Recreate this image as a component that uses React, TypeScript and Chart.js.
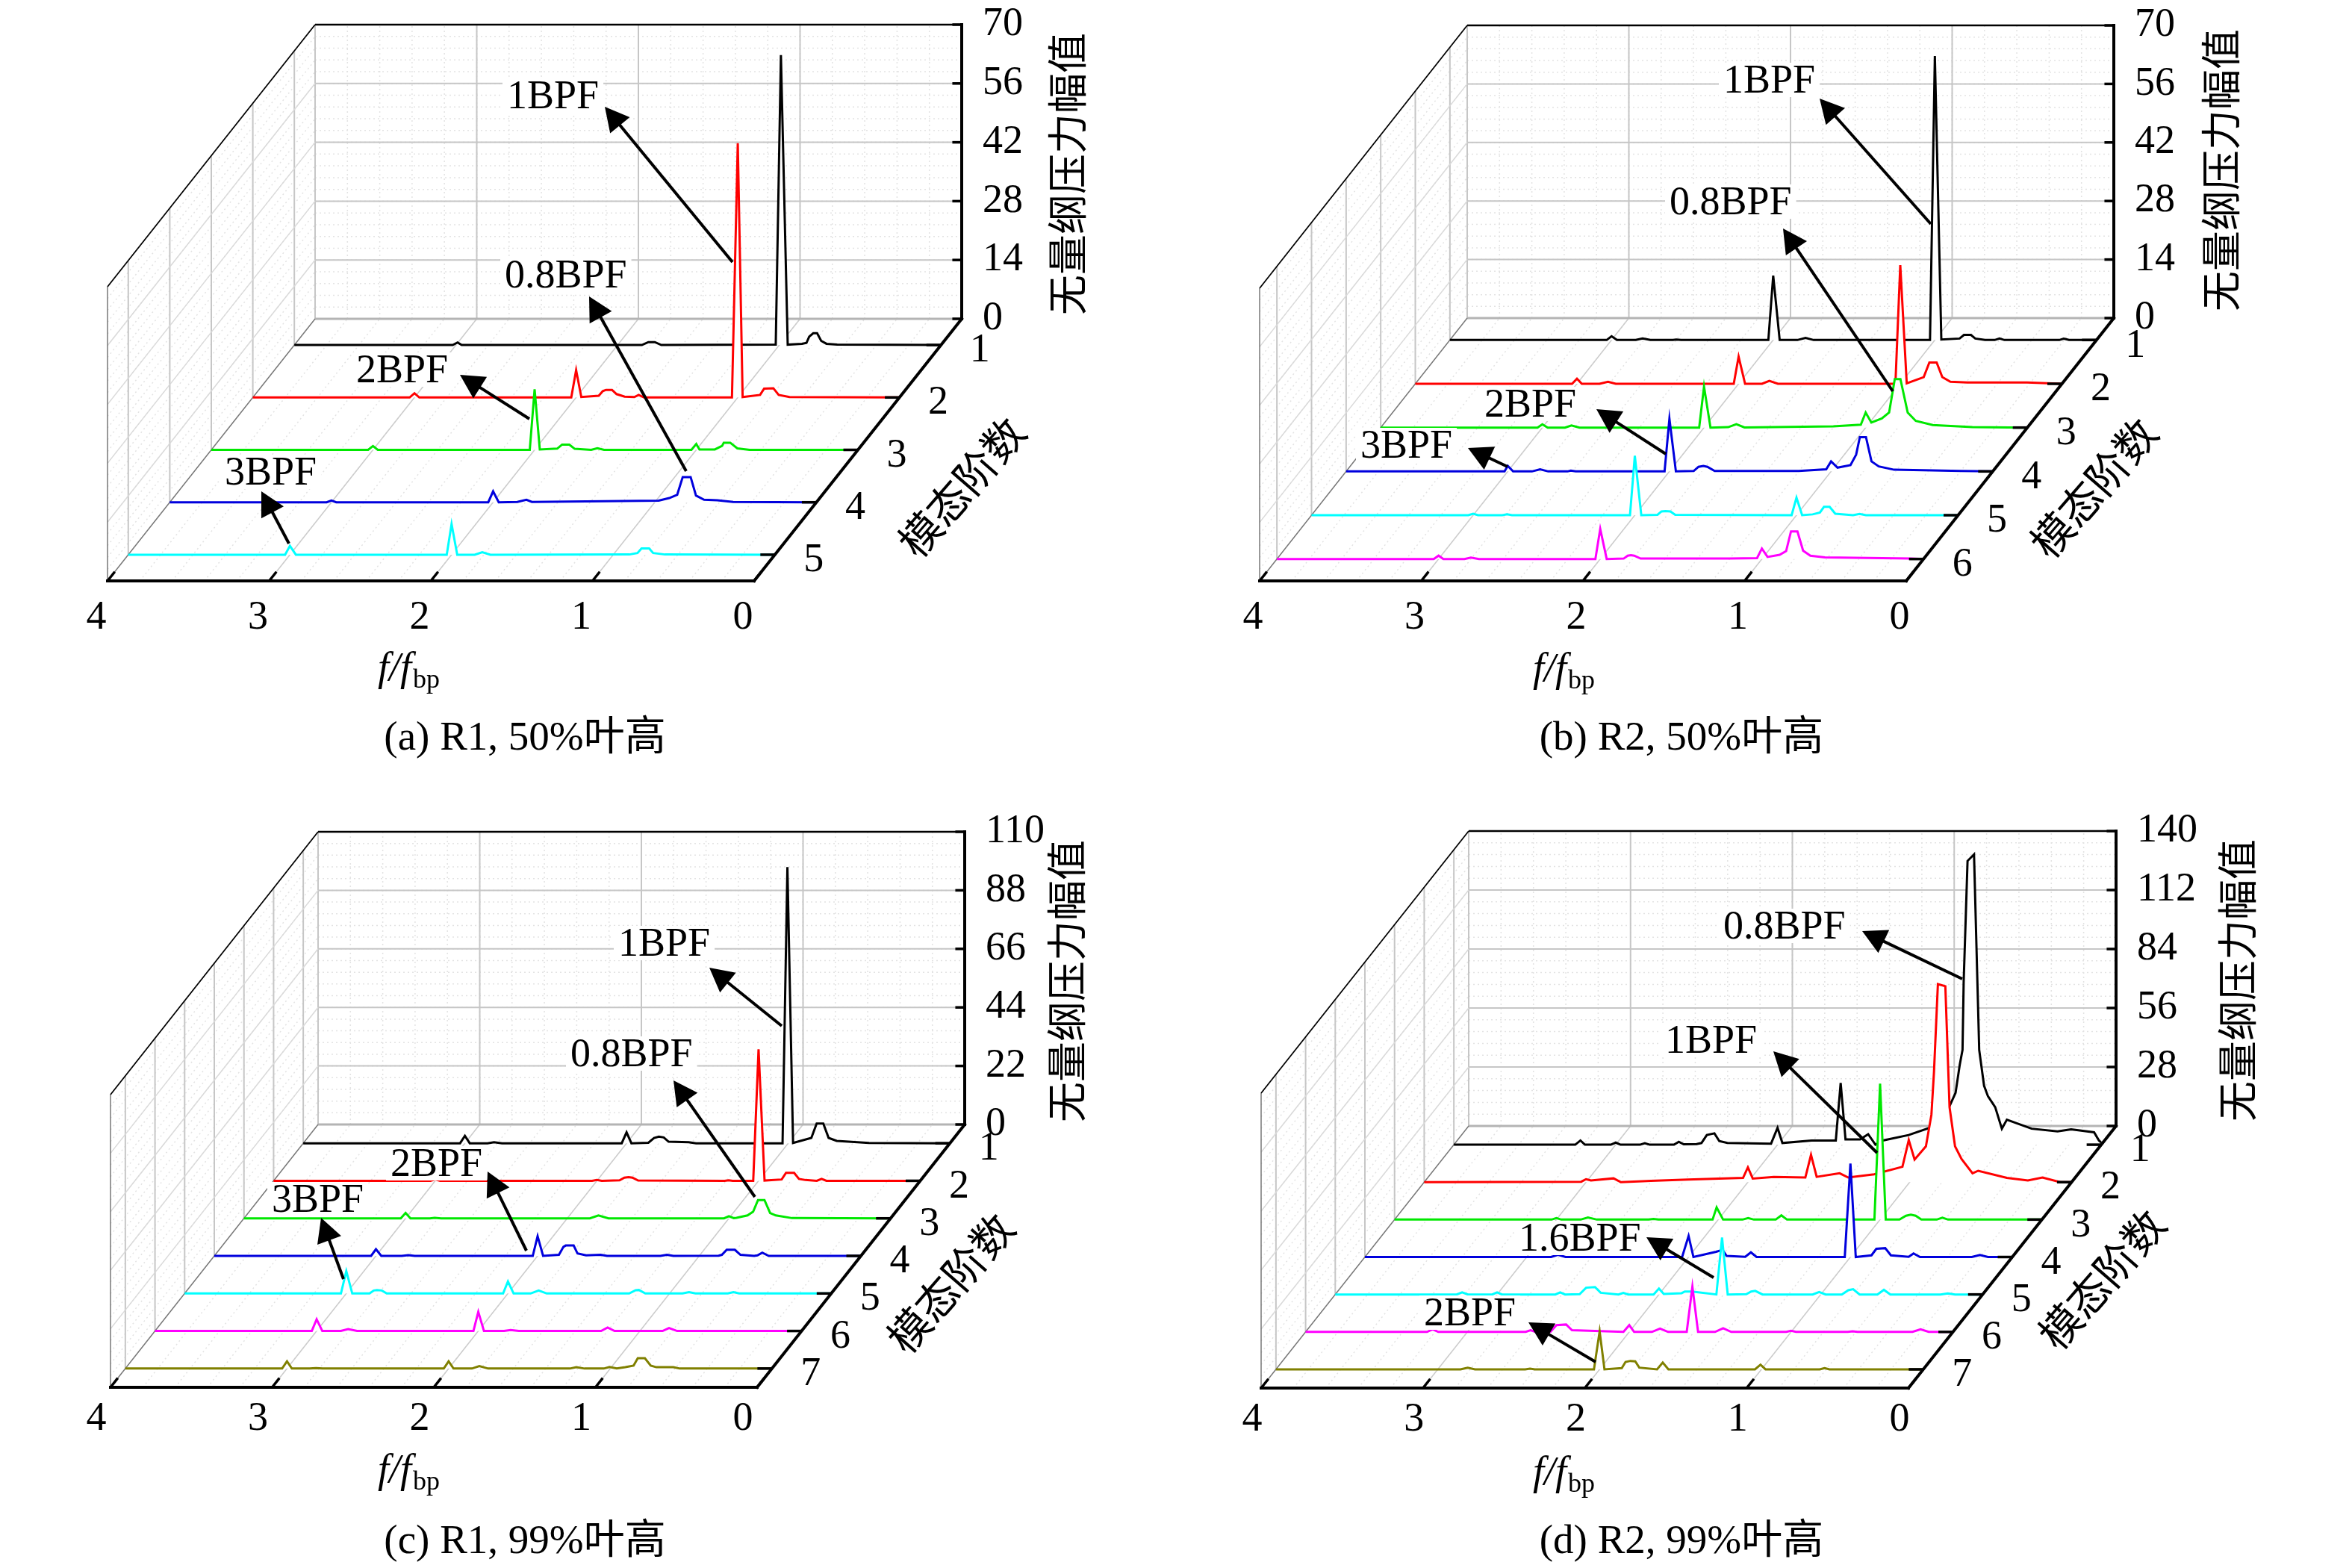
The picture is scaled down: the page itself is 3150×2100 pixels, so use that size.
import { useEffect, useRef } from "react";
import { Chart, registerables } from "chart.js";

Chart.register(...registerables);

type Pt = [number, number];

const fTicks = [4, 3, 2, 1, 0];
const ampTicksA = [0, 14, 28, 42, 56, 70];
const ampTicksB = [0, 14, 28, 42, 56, 70];
const ampTicksC = [0, 22, 44, 66, 88, 110];
const ampTicksD = [0, 28, 56, 84, 112, 140];
const seriesColors = ["#000000", "#ff0000", "#00e800", "#0000dd", "#00ffff", "#ff00ff", "#808000"];

// (a) R1, 50%
const a1: Pt[] = [[4,0],[3.02,0],[2.99,.6],[2.965,0],[1.85,0],[1.81,.7],[1.77,.7],[1.73,0],[1.022,.1],[.99,69],[.948,.1],[.86,.3],[.832,.5],[.815,2],[.79,2.8],[.766,2.8],[.741,1],[.708,.3],[.642,.1],[0,0]];
const a2: Pt[] = [[4,0],[3.03,0],[3.0,1],[2.97,0],[2.03,0],[2.0,6.5],[1.968,.1],[1.86,.4],[1.835,1.5],[1.815,1.8],[1.778,1.8],[1.75,.8],[1.70,.2],[1.64,.1],[1.613,.6],[1.58,0],[1.036,0],[1.0,60.5],[.97,.1],[.862,.6],[.837,2.1],[.78,2.2],[.747,.6],[.68,.1],[0,0]];
const a3: Pt[] = [[4,0],[3.03,0],[3.0,.9],[2.97,0],[2.03,0],[2.0,14.4],[1.968,.1],[1.86,.3],[1.83,1.25],[1.785,1.25],[1.752,.25],[1.65,0],[1.612,.4],[1.57,0],[1.03,0],[1.0,1.4],[.98,.1],[.885,.1],[.84,.95],[.83,1.7],[.79,1.7],[.746,.35],[.67,0],[0,0]];
const a4: Pt[] = [[4,0],[3.03,0],[3.0,.4],[2.97,0],[2.03,0],[2.0,2.6],[1.965,0],[1.85,.1],[1.794,.6],[1.76,.1],[.976,.4],[.91,1],[.861,1.8],[.827,6],[.778,6],[.745,1.6],[.695,.6],[.613,.5],[.515,.1],[0,0]];
const a5: Pt[] = [[4,0],[3.03,0],[3.0,2.1],[2.963,0],[2.03,0],[2.0,7.3],[1.965,0],[1.857,0],[1.81,.6],[1.76,0],[.9,.05],[.85,.4],[.825,1.5],[.778,1.5],[.753,.4],[.68,.05],[0,0]];

// (b) R2, 50%
const b1: Pt[] = [[4,0],[3.03,0],[3.0,.9],[2.967,0],[2.85,0],[2.808,.35],[2.76,0],[2.62,0],[2.6,.1],[2.57,0],[2.03,0],[2.0,15.4],[1.96,0],[1.85,0],[1.80,.5],[1.75,0],[1.03,0],[1.0,67.9],[.96,.1],[.847,.35],[.82,1.2],[.777,1.2],[.75,.35],[.69,0],[.63,0],[.6,.35],[.57,0],[.23,0],[.203,.3],[.17,0],[0,0]];
const b2: Pt[] = [[4,0],[3.03,0],[3.0,1.2],[2.97,0],[2.86,0],[2.808,.5],[2.76,0],[2.03,0],[2.0,6.5],[1.96,0],[1.855,0],[1.81,.7],[1.757,0],[1.03,0],[1.0,28.4],[.96,.1],[.855,1.6],[.82,5.1],[.775,5.1],[.74,1.6],[.69,.5],[.585,.3],[.215,.3],[0,0]];
const b3: Pt[] = [[4,0],[3.03,0],[3.0,.8],[2.967,0],[2.86,0],[2.82,.5],[2.77,0],[2.03,0],[2.0,9.8],[1.96,0],[1.85,.1],[1.80,.8],[1.75,.05],[1.57,.1],[1.2,.3],[1.03,.7],[1.0,3.6],[.965,1.2],[.90,2.2],[.855,3.6],[.82,11.6],[.785,11.6],[.74,3.6],[.69,1.6],[.585,.6],[.34,.1],[0,0]];
const b4: Pt[] = [[4,0],[3.02,0],[3.0,1.3],[2.967,0],[2.85,0],[2.80,.5],[2.75,0],[2.63,0],[2.61,.2],[2.58,0],[2.03,0],[2.0,12.6],[1.96,0],[1.85,.1],[1.82,1.1],[1.79,1.3],[1.765,1.1],[1.72,.1],[1.2,.1],[1.03,.5],[1.0,2.4],[.96,.9],[.88,1.5],[.845,4],[.822,8.2],[.784,8.2],[.75,2.4],[.705,1.2],[.61,.4],[.195,.1],[0,0]];
const b5: Pt[] = [[4,0],[3.03,0],[3.0,.35],[2.97,0],[2.82,0],[2.79,.2],[2.76,0],[2.03,0],[2.0,14.2],[1.96,0],[1.86,.1],[1.835,.9],[1.81,1],[1.78,.9],[1.75,.1],[1.03,0],[1.0,4.2],[.965,0],[.90,.2],[.855,.65],[.83,2],[.795,2],[.76,.35],[.65,0],[.61,.3],[.57,0],[0,0]];
const b6: Pt[] = [[4,0],[3.03,0],[3.0,.8],[2.97,0],[2.84,0],[2.80,.35],[2.75,0],[2.03,0],[2.0,7.2],[1.96,0],[1.855,.1],[1.83,.8],[1.81,.9],[1.79,.8],[1.75,.1],[1.2,.1],[1.03,.2],[1.0,2.5],[.965,.5],[.89,1],[.85,1.9],[.82,6.6],[.78,6.6],[.745,2],[.70,.8],[.61,.4],[.08,.1],[0,0]];

// (c) R1, 99%
const c1: Pt[] = [[4,0],[3.03,0],[3.0,2.8],[2.97,0],[2.86,0],[2.82,.4],[2.77,0],[2.03,0],[2.0,4.1],[1.97,0],[1.865,.2],[1.83,2],[1.80,2.5],[1.77,2.2],[1.74,.6],[1.616,.4],[1.57,0],[1.035,0],[1.005,103.8],[.97,.1],[.857,2],[.824,7.4],[.783,7.4],[.75,2],[.70,.9],[.59,.45],[.5,.1],[0,0]];
const c2: Pt[] = [[4,0],[3.03,0],[3.0,.5],[2.97,0],[2.03,0],[2.0,.3],[1.97,0],[1.86,.2],[1.83,1.2],[1.804,1.4],[1.78,1.2],[1.745,.1],[1.21,0],[1.185,.2],[1.16,0],[1.033,0],[1.0,49.4],[.963,.1],[.857,.5],[.83,3],[.78,3],[.75,.7],[.71,.3],[.64,0],[.61,.75],[.58,0],[0,0]];
const c3: Pt[] = [[4,0],[3.03,0],[3.0,2],[2.97,0],[2.85,0],[2.82,.2],[2.78,0],[1.86,0],[1.807,1.1],[1.745,0],[1.03,0],[1.0,.8],[.97,.1],[.953,.2],[.885,1.1],[.85,2.5],[.82,6.9],[.78,6.9],[.745,2],[.71,1.1],[.61,.1],[0,0]];
const c4: Pt[] = [[4,0],[3.03,0],[3.0,2.5],[2.967,0],[2.84,0],[2.8,.3],[2.76,0],[2.03,0],[2.0,7.4],[1.966,0],[1.868,.4],[1.84,3.4],[1.826,3.9],[1.777,3.9],[1.753,.9],[1.70,.2],[1.61,.4],[1.57,0],[1.24,0],[1.2,.4],[1.16,0],[.88,.1],[.86,.4],[.83,2.3],[.78,2.3],[.745,.4],[.66,0],[.64,.2],[.61,1.2],[.57,0],[0,0]];
const c5: Pt[] = [[4,0],[3.033,0],[3.0,8.4],[2.963,0],[2.856,0],[2.83,1.1],[2.81,1.3],[2.78,1.1],[2.75,0],[2.03,0],[2.0,4.5],[1.965,0],[1.86,0],[1.81,1.1],[1.76,0],[1.25,0],[1.21,1.2],[1.19,1.3],[1.15,0],[.92,0],[.88,.5],[.84,0],[.64,0],[.605,.5],[.57,0],[0,0]];
const c6: Pt[] = [[4,0],[3.03,0],[3.0,4.4],[2.965,0],[2.85,0],[2.805,.7],[2.75,0],[2.03,0],[2.0,7.2],[1.965,0],[1.84,0],[1.80,.4],[1.75,0],[1.24,0],[1.2,1.3],[1.157,0],[.86,0],[.82,1.1],[.77,0],[0,0]];
const c7: Pt[] = [[4,0],[3.03,0],[3.0,2.7],[2.97,0],[2.86,0],[2.82,.2],[2.78,0],[2.03,0],[2.0,2.7],[1.97,0],[1.856,0],[1.81,.9],[1.756,0],[1.25,0],[1.21,.5],[1.16,0],[1.04,0],[1.005,.6],[.96,.05],[.907,.5],[.856,1.1],[.83,3.9],[.786,3.9],[.75,1.1],[.715,.5],[.61,.5],[.57,0],[0,0]];

// (d) R2, 99%
const d1: Pt[] = [[4,0],[3.25,0],[3.218,2],[3.19,0],[3.03,0],[3.0,1],[2.97,0],[2.85,0],[2.82,.7],[2.79,0],[2.64,0],[2.61,1.4],[2.58,.2],[2.5,.3],[2.47,.8],[2.437,4.6],[2.39,5.4],[2.36,1.7],[2.31,.8],[2.04,.5],[2.0,8],[1.97,.8],[1.79,2],[1.64,2],[1.61,29.3],[1.58,2.5],[1.49,2.5],[1.44,5],[1.395,0],[1.35,2],[1.19,4.6],[1.06,8],[.945,17],[.9,24.6],[.874,38],[.857,45],[.85,77],[.826,134.7],[.786,137.8],[.754,45],[.724,28],[.70,23],[.655,17.8],[.614,7.6],[.583,11.9],[.43,7.6],[.27,6.3],[.186,7.3],[.044,5.9],[.014,2],[0,1]];
const d2: Pt[] = [[4,0],[3.03,.2],[3.0,1.4],[2.97,.8],[2.83,1.8],[2.785,0],[2.65,.4],[2.6,.6],[2.37,1.2],[2.03,2],[2.0,7],[1.97,1.7],[1.84,2.5],[1.645,2.2],[1.61,13],[1.575,2.5],[1.433,4.2],[1.38,2.2],[1.22,3.7],[1.045,7.3],[1.006,20],[.97,10.7],[.90,17],[.866,32],[.85,52.5],[.826,94],[.78,93],[.754,35.6],[.72,17],[.68,11],[.612,4.2],[.577,5.4],[.40,2],[.27,.8],[.18,2.2],[.07,0],[0,0]];
const d3: Pt[] = [[4,0],[3.03,0],[3.0,.7],[2.97,0],[2.85,0],[2.805,1],[2.75,0],[2.43,0],[2.4,.3],[2.37,0],[2.035,0],[2.01,5.8],[1.97,0],[1.85,0],[1.815,.7],[1.78,0],[1.645,0],[1.61,2],[1.575,0],[1.035,0],[1.0,64.5],[.965,0],[.88,0],[.84,1.8],[.81,2.3],[.78,1.8],[.745,0],[.65,0],[.615,.9],[.58,0],[0,0]];
const d4: Pt[] = [[4,0],[2.85,0],[2.807,1],[2.76,0],[2.04,0],[2.0,10],[1.97,0],[1.83,2.5],[1.79,3.4],[1.765,.5],[1.65,.1],[1.615,2.2],[1.58,0],[1.035,0],[1.0,44.4],[.967,0],[.87,.8],[.84,3.9],[.785,4.2],[.75,.8],[.64,.1],[.61,1.7],[.57,0],[.25,0],[.2,1],[.15,0],[0,0]];
const d5: Pt[] = [[4,0],[3.25,0],[3.216,1],[3.18,0],[3.03,0],[3.0,1],[2.97,0],[2.64,0],[2.61,1],[2.58,0],[2.49,.1],[2.45,3.2],[2.395,3.5],[2.36,.8],[2.25,0],[2.22,.7],[2.19,0],[2.033,0],[2.0,2.8],[1.97,.2],[1.86,.6],[1.84,1.4],[1.795,1.4],[1.645,0],[1.61,27],[1.575,0],[1.46,.1],[1.43,1.4],[1.405,1.7],[1.36,0],[1.05,0],[1.01,1.2],[.97,0],[.87,0],[.83,2],[.80,2.5],[.76,0],[.65,0],[.61,2.2],[.57,0],[.26,0],[.215,.5],[.17,0],[0,0]];
const d6: Pt[] = [[4,0],[3.25,0],[3.215,1.2],[3.18,0],[2.64,0],[2.61,.8],[2.58,0],[2.486,.1],[2.45,3.2],[2.39,3.5],[2.354,.8],[2.036,0],[2.0,3.2],[1.97,0],[1.86,0],[1.81,1.6],[1.76,0],[1.645,0],[1.61,21.5],[1.575,0],[1.47,0],[1.42,1.7],[1.37,0],[1.03,0],[1.0,.5],[.97,0],[.65,0],[.62,.3],[.59,0],[.25,0],[.2,1.2],[.15,0],[0,0]];
const d7: Pt[] = [[4,0],[2.86,0],[2.815,.8],[2.77,0],[2.46,0],[2.43,.3],[2.4,0],[2.035,0],[2.0,18],[1.97,0],[1.863,.6],[1.84,3.5],[1.81,4],[1.78,3.8],[1.755,.8],[1.645,0],[1.61,3.2],[1.575,0],[1.04,0],[1.006,2.2],[.975,0],[.64,0],[.61,.6],[.58,0],[0,0]];

const TEXT_FONT = '"Liberation Serif", "Noto Sans CJK SC", serif';
const CJK_FONT = '"Noto Sans CJK SC", "Liberation Serif", sans-serif';
const CANVAS_W = 1575;
const CANVAS_H = 1050;
const AXIS_W = 180;
const AXIS_H = 90;
const TICK_SIZE = 54;

type Note = { text: string; x: number; y: number; tail: Pt; tip: Pt };
type Panel = {
  ox: number; oy: number; fl: number; fw: number; dx: number; top: number; floor: number; front: number;
  ampTicks: number[]; series: Pt[][]; caption: string; capX: number; capY: number;
  ampTitle: Pt; modeTitle: Pt; fTitle: Pt; notes: Note[]; labelShift: number; labelPad: number;
};

const panels: Panel[] = [
  {
    ox: 0, oy: 0, fl: 144, fw: 866, dx: 278, top: 33, floor: 427, front: 778, ampTicks: ampTicksA,
    series: [a1, a2, a3, a4, a5], caption: "(a) R1, 50%叶高", capX: 703, capY: 990,
    ampTitle: [1429, 233], modeTitle: [1288, 652], fTitle: [506, 897], labelShift: -15, labelPad: 15,
    notes: [
      { text: "1BPF", x: 679, y: 127, tail: [981, 351], tip: [810, 143] },
      { text: "0.8BPF", x: 676, y: 367, tail: [919, 631], tip: [789, 397] },
      { text: "2BPF", x: 477, y: 494, tail: [709, 561], tip: [616, 502] },
      { text: "3BPF", x: 301, y: 631, tail: [387, 728], tip: [350, 658] },
    ],
  },
  {
    ox: 1575, oy: 0, fl: 1687, fw: 866, dx: 278, top: 34, floor: 426, front: 778, ampTicks: ampTicksB,
    series: [b1, b2, b3, b4, b5, b6], caption: "(b) R2, 50%叶高", capX: 2252, capY: 990,
    ampTitle: [2974, 228], modeTitle: [2804, 653], fTitle: [2053, 898], labelShift: -9, labelPad: 15,
    notes: [
      { text: "1BPF", x: 2308, y: 106, tail: [2586, 300], tip: [2437, 132] },
      { text: "0.8BPF", x: 2236, y: 269, tail: [2535, 524], tip: [2388, 306] },
      { text: "2BPF", x: 1988, y: 540, tail: [2231, 608], tip: [2138, 548] },
      { text: "3BPF", x: 1822, y: 595, tail: [2019, 625], tip: [1966, 600] },
    ],
  },
  {
    ox: 0, oy: 1050, fl: 148, fw: 866, dx: 278, top: 1114, floor: 1506, front: 1858, ampTicks: ampTicksC,
    series: [c1, c2, c3, c4, c5, c6, c7], caption: "(c) R1, 99%叶高", capX: 703, capY: 2066,
    ampTitle: [1428, 1314], modeTitle: [1273, 1718], fTitle: [506, 1971], labelShift: -19, labelPad: 8,
    notes: [
      { text: "1BPF", x: 828, y: 1262, tail: [1047, 1374], tip: [950, 1296] },
      { text: "0.8BPF", x: 764, y: 1410, tail: [1011, 1603], tip: [902, 1447] },
      { text: "2BPF", x: 523, y: 1557, tail: [705, 1675], tip: [653, 1569] },
      { text: "3BPF", x: 364, y: 1605, tail: [460, 1713], tip: [430, 1631] },
    ],
  },
  {
    ox: 1575, oy: 1050, fl: 1689, fw: 867, dx: 278, top: 1113, floor: 1508, front: 1859, ampTicks: ampTicksD,
    series: [d1, d2, d3, d4, d5, d6, d7], caption: "(d) R2, 99%叶高", capX: 2252, capY: 2066,
    ampTitle: [2996, 1313], modeTitle: [2815, 1713], fTitle: [2053, 1974], labelShift: -12, labelPad: 8,
    notes: [
      { text: "0.8BPF", x: 2308, y: 1239, tail: [2628, 1311], tip: [2494, 1247] },
      { text: "1BPF", x: 2230, y: 1392, tail: [2514, 1544], tip: [2375, 1408] },
      { text: "1.6BPF", x: 2034, y: 1657, tail: [2295, 1711], tip: [2205, 1657] },
      { text: "2BPF", x: 1907, y: 1757, tail: [2137, 1824], tip: [2047, 1771] },
    ],
  },
];

function buildChart(canvas: HTMLCanvasElement, p: Panel) {
  const ampMax = p.ampTicks[p.ampTicks.length - 1];
  const perAmp = (p.floor - p.top) / ampMax;
  const yMin = -(p.front - p.floor) / perAmp;
  const xDepth = p.dx / (p.fw / 4);
  const n = p.series.length;
  const depthOf = (i: number) => (n - i - 0.5) / n;
  const X = (f: number, d: number) => f - d * xDepth;
  const Y = (a: number, d: number) => a + yMin * (1 - d);

  const pos = (chart: any, f: number, d: number, a: number): Pt => [
    chart.scales.x.getPixelForValue(X(f, d)),
    chart.scales.y.getPixelForValue(Y(a, d)),
  ];

  const seg = (ctx: CanvasRenderingContext2D, a: Pt, b: Pt) => {
    ctx.beginPath();
    ctx.moveTo(a[0], a[1]);
    ctx.lineTo(b[0], b[1]);
    ctx.stroke();
  };

  const wallPlugin = {
    id: "walls",
    beforeDatasetsDraw(chart: any) {
      const ctx = chart.ctx as CanvasRenderingContext2D;
      ctx.save();
      const minorStep = p.ampTicks[1] / 5;
      // dotted minor grid
      ctx.strokeStyle = "#e3e3e3";
      ctx.lineWidth = 1.5;
      ctx.setLineDash([2, 4]);
      for (let a = minorStep; a < ampMax - 1e-6; a += minorStep) {
        seg(ctx, pos(chart, 4, 1, a), pos(chart, 0, 1, a));
        seg(ctx, pos(chart, 4, 0, a), pos(chart, 4, 1, a));
      }
      for (let k = 1; k < 20; k++) {
        const f = k / 5;
        seg(ctx, pos(chart, f, 1, 0), pos(chart, f, 1, ampMax));
        seg(ctx, pos(chart, f, 0, 0), pos(chart, f, 1, 0));
      }
      ctx.setLineDash([]);
      // major grid, back wall
      ctx.strokeStyle = "#c6c6c6";
      ctx.lineWidth = 2;
      for (const a of p.ampTicks) {
        if (a === ampMax) continue;
        seg(ctx, pos(chart, 4, 1, a), pos(chart, 0, 1, a));
      }
      for (const f of [1, 2, 3]) {
        seg(ctx, pos(chart, f, 1, 0), pos(chart, f, 1, ampMax));
      }
      for (let i = 0; i < n; i++) {
        seg(ctx, pos(chart, 4, depthOf(i), 0), pos(chart, 4, depthOf(i), ampMax));
      }
      seg(ctx, pos(chart, 4, 1, 0), pos(chart, 4, 1, ampMax));
      // major grid, floor and left wall
      ctx.strokeStyle = "#cccccc";
      ctx.lineWidth = 1.5;
      for (const f of [1, 2, 3]) {
        seg(ctx, pos(chart, f, 0, 0), pos(chart, f, 1, 0));
      }
      ctx.strokeStyle = "#dadada";
      for (const a of p.ampTicks) {
        if (a === ampMax || a === 0) continue;
        seg(ctx, pos(chart, 4, 0, a), pos(chart, 4, 1, a));
      }
      ctx.strokeStyle = "#b4b4b4";
      ctx.lineWidth = 3;
      seg(ctx, pos(chart, 4, 1, 0), pos(chart, 0, 1, 0));
      // thin outer edges
      ctx.strokeStyle = "#777777";
      ctx.lineWidth = 1.5;
      seg(ctx, pos(chart, 4, 0, 0), pos(chart, 4, 0, ampMax));
      seg(ctx, pos(chart, 4, 0, 0), pos(chart, 4, 1, 0));
      ctx.restore();
    },
    afterDatasetsDraw(chart: any) {
      const ctx = chart.ctx as CanvasRenderingContext2D;
      const ox = p.ox;
      const oy = p.oy;
      ctx.save();
      ctx.lineCap = "butt";
      ctx.strokeStyle = "#000";
      // upper edges
      ctx.lineWidth = 2.5;
      seg(ctx, pos(chart, 4, 1, ampMax), pos(chart, 0, 1, ampMax));
      ctx.lineWidth = 1.8;
      seg(ctx, pos(chart, 4, 0, ampMax), pos(chart, 4, 1, ampMax));
      // main axes
      ctx.lineWidth = 4;
      ctx.lineCap = "square";
      seg(ctx, pos(chart, 4, 0, 0), pos(chart, 0, 0, 0));
      seg(ctx, pos(chart, 0, 0, 0), pos(chart, 0, 1, 0));
      seg(ctx, pos(chart, 0, 1, 0), pos(chart, 0, 1, ampMax));
      ctx.lineCap = "butt";
      ctx.lineWidth = 3.5;
      for (const a of p.ampTicks) {
        seg(ctx, pos(chart, 0, 1, a), pos(chart, 0.058, 1, a));
      }
      for (const f of fTicks) {
        seg(ctx, pos(chart, f, 0, 0), pos(chart, f, 0.035, 0));
      }
      for (let i = 0; i < n; i++) {
        seg(ctx, pos(chart, 0, depthOf(i), 0), pos(chart, 0.09, depthOf(i), 0));
      }
      // mode labels
      ctx.fillStyle = "#000";
      ctx.font = `${TICK_SIZE}px ${TEXT_FONT}`;
      ctx.textAlign = "center";
      ctx.textBaseline = "middle";
      for (let i = 0; i < n; i++) {
        const c = pos(chart, 0, depthOf(i), 0);
        ctx.fillText(String(i + 1), c[0] + 52, c[1] + 8);
      }
      // amplitude title
      ctx.save();
      ctx.translate(p.ampTitle[0] - ox, p.ampTitle[1] - oy);
      ctx.rotate(-Math.PI / 2);
      ctx.font = `54px ${CJK_FONT}`;
      ctx.fillText("无量纲压力幅值", 0, 0);
      ctx.restore();
      // mode title
      ctx.save();
      ctx.translate(p.modeTitle[0] - ox, p.modeTitle[1] - oy);
      ctx.rotate((-49 * Math.PI) / 180);
      ctx.font = `56px ${CJK_FONT}`;
      ctx.fillText("模态阶数", 0, 0);
      ctx.restore();
      // frequency title
      ctx.textAlign = "left";
      ctx.textBaseline = "alphabetic";
      ctx.font = `italic 54px ${TEXT_FONT}`;
      const fx = p.fTitle[0] - ox;
      const fy = p.fTitle[1] - oy + 14;
      ctx.fillText("f/f", fx, fy);
      const wf = ctx.measureText("f/f").width;
      ctx.font = `36px ${TEXT_FONT}`;
      ctx.fillText("bp", fx + wf + 2, fy + 10);
      // caption
      ctx.textAlign = "center";
      ctx.textBaseline = "middle";
      ctx.font = `55px ${TEXT_FONT}`;
      ctx.fillText(p.caption, p.capX - ox, p.capY - oy);
      // notes
      ctx.textAlign = "left";
      ctx.font = `54px ${TEXT_FONT}`;
      for (const note of p.notes) {
        const tx = note.x - ox;
        const ty = note.y - oy;
        const w = ctx.measureText(note.text).width;
        ctx.fillStyle = "#fff";
        ctx.fillRect(tx - 6, ty - 22, w + 12, 46);
        ctx.fillStyle = "#000";
        ctx.fillText(note.text, tx, ty + 4);
        const ax = note.tail[0] - ox;
        const ay = note.tail[1] - oy;
        const bx = note.tip[0] - ox;
        const by = note.tip[1] - oy;
        const len = Math.hypot(bx - ax, by - ay);
        const ux = (bx - ax) / len;
        const uy = (by - ay) / len;
        const hl = 32;
        const hw = 17;
        ctx.strokeStyle = "#000";
        ctx.lineWidth = 4;
        seg(ctx, [ax, ay], [bx - ux * hl * 0.9, by - uy * hl * 0.9]);
        ctx.beginPath();
        ctx.moveTo(bx, by);
        ctx.lineTo(bx - ux * hl - uy * hw, by - uy * hl + ux * hw);
        ctx.lineTo(bx - ux * hl + uy * hw, by - uy * hl - ux * hw);
        ctx.closePath();
        ctx.fill();
      }
      ctx.restore();
    },
  };

  const datasets = p.series.map((pts, i) => {
    const d = depthOf(i);
    return {
      type: "line" as const,
      label: `模态 ${i + 1}`,
      data: pts.map(([f, a]) => ({ x: X(f, d), y: Y(a, d) })),
      borderColor: seriesColors[i],
      backgroundColor: "#ffffff",
      borderWidth: 3,
      pointRadius: 0,
      tension: 0,
      fill: { value: Y(0, d) },
      // nearer modes paint last, over the farther ones
      order: n - i,
    };
  });

  return new Chart(canvas, {
    type: "line",
    data: { datasets },
    plugins: [wallPlugin],
    options: {
      animation: false,
      responsive: false,
      devicePixelRatio: 1,
      parsing: { xAxisKey: "x", yAxisKey: "y" },
      layout: {
        padding: {
          left: p.fl - p.ox,
          top: p.top - p.oy,
          right: CANVAS_W - (p.fl + p.fw + p.dx - p.ox) - AXIS_W,
          bottom: CANVAS_H - (p.front - p.oy) - AXIS_H,
        },
      },
      plugins: { legend: { display: false }, tooltip: { enabled: false }, title: { display: false } },
      scales: {
        x: {
          type: "linear",
          reverse: true,
          min: -xDepth,
          max: 4,
          position: "bottom",
          grid: { display: false },
          border: { display: false },
          afterBuildTicks: (s: any) => { s.ticks = fTicks.map((value) => ({ value })); },
          afterFit: (s: any) => { s.height = AXIS_H; s.paddingLeft = 0; s.paddingRight = 0; },
          ticks: {
            autoSkip: false, maxRotation: 0, minRotation: 0, padding: p.labelPad, labelOffset: p.labelShift,
            color: "#000", font: { family: TEXT_FONT, size: TICK_SIZE, lineHeight: 1 },
            callback: (v: any) => String(v),
          },
        },
        y: {
          type: "linear",
          position: "right",
          min: yMin,
          max: ampMax,
          grid: { display: false },
          border: { display: false },
          afterBuildTicks: (s: any) => { s.ticks = p.ampTicks.map((value) => ({ value })); },
          afterFit: (s: any) => { s.width = AXIS_W; s.paddingTop = 0; s.paddingBottom = 0; },
          ticks: {
            autoSkip: false, padding: 20,
            color: "#000", font: { family: TEXT_FONT, size: TICK_SIZE, lineHeight: 1 },
            callback: (v: any) => String(v),
          },
        },
      },
    } as any,
  });
}

function PanelChart({ panel }: { panel: Panel }) {
  const ref = useRef<HTMLCanvasElement>(null);
  useEffect(() => {
    if (!ref.current) return;
    const chart = buildChart(ref.current, panel);
    return () => chart.destroy();
  }, [panel]);
  return (
    <canvas
      ref={ref}
      width={CANVAS_W}
      height={CANVAS_H}
      style={{ position: "absolute", left: panel.ox, top: panel.oy, width: CANVAS_W, height: CANVAS_H, display: "block" }}
    />
  );
}

export default function App() {
  return (
    <div style={{ position: "absolute", left: 0, top: 0, width: 3150, height: 2100, background: "#fff", overflow: "hidden" }}>
      {panels.map((panel) => (
        <PanelChart key={panel.caption} panel={panel} />
      ))}
    </div>
  );
}
